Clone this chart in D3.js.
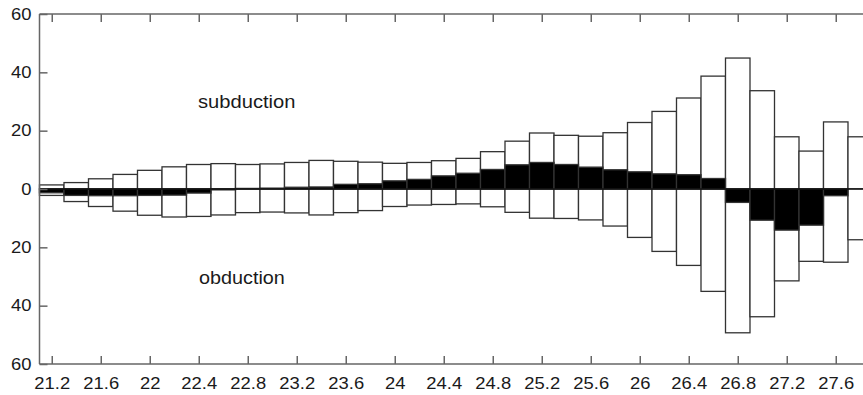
<!DOCTYPE html>
<html lang="en">
<head>
<meta charset="UTF-8">
<title>subduction / obduction</title>
<script src="https://cdn.jsdelivr.net/npm/d3@7/dist/d3.min.js"></script>
<style>
  body { margin: 0; background: #fff; }
  text { font-family: Arial, "Liberation Sans", sans-serif; fill: #1a1a1a; }
</style>
</head>
<body>
<div class="chart"></div>
<script>
// bin centres (width 0.2)
let bins = [21.2,21.4,21.6,21.8,22.0,22.2,22.4,22.6,22.8,23.0,23.2,23.4,23.6,23.8,24.0,24.2,24.4,
            24.6,24.8,25.0,25.2,25.4,25.6,25.8,26.0,26.2,26.4,26.6,26.8,27.0,27.2,27.4,27.6,27.8]
let binWidth = 0.2
let subduction = [1.4,2.2,3.5,5.0,6.4,7.6,8.4,8.7,8.4,8.6,9.1,9.8,9.5,9.2,8.8,9.1,9.7,
                  10.5,12.8,16.4,19.2,18.4,18.1,19.3,22.8,26.6,31.2,38.7,44.9,33.7,17.9,13.0,23.0,17.9]
let obduction = [2.2,4.3,6.0,7.6,9.0,9.6,9.4,8.9,8.1,7.9,8.2,8.9,8.1,7.4,6.0,5.5,5.3,
                 5.1,6.1,8.0,10.0,10.1,10.6,12.7,16.6,21.4,26.2,35.1,49.3,43.8,31.5,24.8,25.1,17.4]
let net = [-1.3,-2.2,-2.3,-2.3,-2.2,-2.1,-1.4,-0.3,0.2,0.3,0.6,0.7,1.6,1.8,2.8,3.3,4.5,
           5.4,6.7,8.3,9.1,8.4,7.5,6.6,5.9,5.2,4.9,3.6,-4.6,-10.7,-14.1,-12.4,-2.3,0.0]
let xTicks = [21.2,21.6,22,22.4,22.8,23.2,23.6,24,24.4,24.8,25.2,25.6,26,26.4,26.8,27.2,27.6]
let yTicks = [-60,-40,-20,0,20,40,60]

let W = 863, H = 395
let mLeft = 39.5, mTop = 14, mBottom = 364
let x = d3.scaleLinear().domain([21.1, 28.1]).range([mLeft, mLeft + 7 * 122.5])
let y = d3.scaleLinear().domain([-60, 60]).range([mBottom, mTop])
let axisColor = '#666', barStroke = '#333'

let svg = d3.select('.chart').append('svg').attr('width', W).attr('height', H)
let g = svg.append('g')

// bars: white up (subduction), white down (obduction), black net on top
function drawBars(values, sign, fill) {
    g.append('g').selectAll('rect').data(values).join('rect')
        .attr('x', (d, i) => x(bins[i] - binWidth / 2))
        .attr('width', (d, i) => x(bins[i] + binWidth / 2) - x(bins[i] - binWidth / 2))
        .attr('y', d => Math.min(y(0), y(sign * d)))
        .attr('height', d => Math.abs(y(sign * d) - y(0)))
        .attr('fill', fill).attr('stroke', barStroke).attr('stroke-width', 1.3)
}
drawBars(subduction, 1, '#fff')
drawBars(obduction, -1, '#fff')
drawBars(net, 1, '#000')

g.append('line').attr('x1', mLeft).attr('x2', W).attr('y1', y(0)).attr('y2', y(0))
    .attr('stroke', '#000').attr('stroke-width', 1.2)

// frame
let frame = g.append('g').attr('stroke', axisColor).attr('stroke-width', 1.5)
frame.append('line').attr('x1', mLeft).attr('x2', mLeft).attr('y1', mTop).attr('y2', mBottom)
frame.append('line').attr('x1', mLeft).attr('x2', W).attr('y1', mTop).attr('y2', mTop)
frame.append('line').attr('x1', mLeft).attr('x2', W).attr('y1', mBottom).attr('y2', mBottom)

// axes with inward ticks
let xAxisB = d3.axisBottom(x).tickValues(xTicks).tickSizeInner(-8).tickSizeOuter(0).tickPadding(14)
    .tickFormat(d3.format('~g'))
let xAxisT = d3.axisTop(x).tickValues(xTicks).tickSizeInner(-8).tickSizeOuter(0).tickFormat('')
let yAxis = d3.axisLeft(y).tickValues(yTicks).tickSizeInner(-8).tickSizeOuter(0).tickPadding(8)
    .tickFormat(d => Math.abs(d))

function styleAxis(sel) {
    sel.select('.domain').remove()
    sel.selectAll('line').attr('stroke', axisColor).attr('stroke-width', 1.5)
    sel.selectAll('text').attr('font-size', 16).attr('fill', '#1a1a1a')
}
g.append('g').attr('transform', 'translate(0,' + mBottom + ')').call(xAxisB).call(styleAxis)
g.append('g').attr('transform', 'translate(0,' + mTop + ')').call(xAxisT).call(styleAxis)
g.append('g').attr('transform', 'translate(' + mLeft + ',0)').call(yAxis).call(styleAxis)

// stretch tick text horizontally a little, like the reference
g.selectAll('.tick text').each(function () {
    let t = d3.select(this)
    let tx = +t.attr('x') || 0, ty = +t.attr('y') || 0
    t.attr('transform', 'translate(' + tx + ',' + ty + ') scale(1.15,1) translate(' + (-tx) + ',' + (-ty) + ')')
})

g.append('text').attr('x', 198).attr('y', 108.5).attr('font-size', 18)
    .attr('transform', 'translate(198,0) scale(1.12,1) translate(-198,0)').text('subduction')
g.append('text').attr('x', 199).attr('y', 284).attr('font-size', 18)
    .attr('transform', 'translate(199,0) scale(1.1,1) translate(-199,0)').text('obduction')
</script>
</body>
</html>
